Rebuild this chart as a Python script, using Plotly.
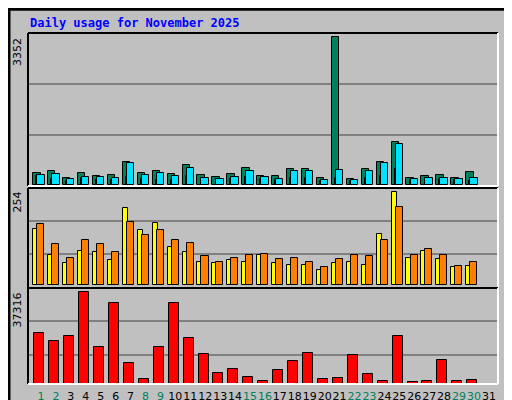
import plotly.graph_objects as go

days = list(range(1, 32))
day_labels = [str(d) for d in days]
weekend_days = [1, 2, 8, 9, 15, 16, 22, 23, 29, 30]

hits = [265, 303, 144, 265, 190, 212, 508, 265, 303, 235, 440, 212, 167, 235, 371, 190,
        190, 349, 349, 144, 3352, 121, 349, 508, 963, 144, 190, 212, 144, 280, 0]
files = [190, 121, 91, 144, 99, 99, 167, 121, 99, 99, 190, 99, 91, 121, 167, 121,
         99, 144, 144, 76, 144, 76, 144, 190, 349, 99, 121, 121, 99, 91, 0]
pages = [212, 235, 121, 167, 167, 144, 485, 212, 258, 190, 371, 144, 121, 167, 303, 167,
         121, 303, 303, 99, 326, 99, 303, 485, 917, 121, 144, 144, 121, 144, 0]
visits = [152, 81, 59, 94, 89, 67, 210, 149, 169, 103, 89, 64, 59, 67, 64, 81,
          59, 56, 56, 42, 61, 64, 56, 138, 254, 75, 92, 70, 50, 53, 0]
sites = [166, 111, 75, 122, 111, 89, 171, 136, 149, 122, 116, 78, 64, 75, 81, 86,
         70, 75, 64, 50, 70, 83, 78, 122, 213, 81, 97, 81, 53, 64, 0]
kbytes = [20566, 17297, 19340, 37316, 15254, 32823, 8717, 2179, 15254, 32823, 18523, 12394,
          4631, 6265, 2996, 1362, 5856, 9534, 12803, 2179, 2588, 11986, 4222, 1362, 19340,
          953, 1362, 9943, 1362, 1771, 0]

C_HITS, C_FILES, C_PAGES = "#00805c", "#0040ff", "#00e0ff"
C_VIS, C_SITES, C_KB = "#ffff00", "#ff8000", "#ff0000"

fig = go.Figure()

def bar(y, color, off, w, ax):
    xs = [d for d, v in zip(days, y) if v > 0]
    ys = [v for v in y if v > 0]
    fig.add_trace(go.Bar(x=xs, y=ys, offset=off, width=w, marker_color=color,
                         marker_line=dict(color="black", width=1),
                         xaxis="x", yaxis=ax, showlegend=False, hoverinfo="skip"))

bar(hits, C_HITS, -0.52, 0.49, "y")
bar(files, C_FILES, -0.31, 0.13, "y")
bar(pages, C_PAGES, -0.25, 0.49, "y")
bar(visits, C_VIS, -0.52, 0.34, "y2")
bar(sites, C_SITES, -0.25, 0.47, "y2")
bar(kbytes, C_KB, -0.45, 0.67, "y3")

H = 400.0
def dom(top, bot):
    return [1 - bot / H, 1 - top / H]

grid = dict(showgrid=True, gridcolor="#808080", gridwidth=1.5, showticklabels=False,
            ticks="", zeroline=False, showline=False, fixedrange=True, automargin=False)
fig.update_layout(
    width=512, height=400, margin=dict(l=20, r=22, t=0, b=0, autoexpand=False),
    paper_bgcolor="#c0c0c0", plot_bgcolor="#c0c0c0", barmode="overlay", bargap=0,
    xaxis=dict(range=[0.13, 31.61], tickvals=days, tickangle=0, automargin=False,
               ticktext=[f'<span style="color:{"#00805c" if d in weekend_days else "black"}">{d}</span>' for d in days],
               ticks="", showgrid=False, zeroline=False, anchor="y3", ticklabelstandoff=4,
               tickfont=dict(family="DejaVu Sans", size=11)),
    yaxis=dict(domain=dom(25, 178), range=[-30, 3450], tickvals=[1130, 2290], **grid),
    yaxis2=dict(domain=dom(180, 280), range=[-8.2, 265], tickvals=[84, 174], **grid),
    yaxis3=dict(domain=dom(280, 376), range=[0, 39050], tickvals=[12000, 25460], **grid),
)

shapes = []
shapes.append(dict(type="rect", xref="paper", yref="paper", x0=-19/470, x1=1+21/470, y0=0.003, y1=0.997,
                   line=dict(color="black", width=3)))
for top, bot in [(25, 178), (180, 280), (280, 376)]:
    y0, y1 = 1 - bot / H, 1 - top / H
    shapes.append(dict(type="line", xref="paper", yref="paper", x0=0, x1=1, y0=y1, y1=y1, line=dict(color="black", width=2)))
    shapes.append(dict(type="line", xref="paper", yref="paper", x0=0, x1=0, y0=y0, y1=y1, line=dict(color="black", width=2)))
    shapes.append(dict(type="line", xref="paper", yref="paper", x0=0, x1=1, y0=y0, y1=y0, line=dict(color="white", width=2)))
    shapes.append(dict(type="line", xref="paper", yref="paper", x0=1, x1=1, y0=y0, y1=y1, line=dict(color="white", width=2)))
fig.update_layout(shapes=shapes)

mono = "DejaVu Sans Mono"
ann = [
    dict(text="<b>Daily usage for November 2025</b>", x=0, y=1 - 15 / H, xanchor="left", yanchor="middle",
         font=dict(family=mono, size=12, color="#0000ff")),
    dict(text="3352", x=-11/470, y=1 - 28 / H, textangle=-90, yanchor="top",
         font=dict(family="DejaVu Sans", size=11, color="black")),
    dict(text="254", x=-11/470, y=1 - 182 / H, textangle=-90, yanchor="top",
         font=dict(family="DejaVu Sans", size=11, color="black")),
    dict(text="37316", x=-11/470, y=1 - 283 / H, textangle=-90, yanchor="top",
         font=dict(family="DejaVu Sans", size=11, color="black")),
    dict(text=f'<span style="color:{C_PAGES}">Pages</span> / <span style="color:{C_FILES}">Files</span> / <span style="color:{C_HITS}">Hits</span>',
         x=1 + 11/470, y=1 - 28 / H, textangle=-90, yanchor="top",
         font=dict(family=mono, size=11, color="black")),
    dict(text=f'<span style="color:{C_SITES}">Sites</span> / <span style="color:{C_VIS}">Visits</span>',
         x=1 + 11/470, y=1 - 182 / H, textangle=-90, yanchor="top",
         font=dict(family=mono, size=11, color="black")),
    dict(text=f'<span style="color:{C_KB}">KBytes</span>',
         x=1 + 11/470, y=1 - 372 / H, textangle=-90, yanchor="bottom",
         font=dict(family=mono, size=11, color="black")),
]
for a in ann:
    a.update(xref="paper", yref="paper", showarrow=False)
    if "xanchor" not in a:
        a["xanchor"] = "center"
fig.update_layout(annotations=ann)

fig.write_html("out.html")
